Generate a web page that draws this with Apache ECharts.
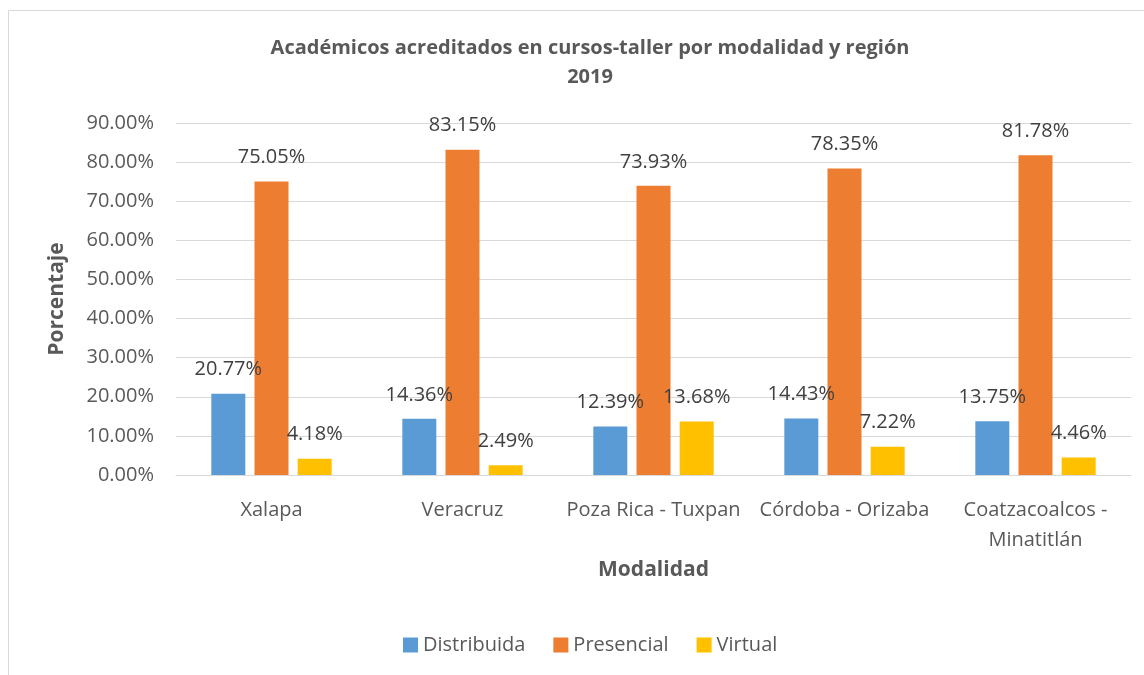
<!DOCTYPE html>
<html>
<head>
<meta charset="utf-8">
<script src="https://cdn.jsdelivr.net/npm/echarts@6/dist/echarts.min.js"></script>
<style>
  html, body { margin: 0; padding: 0; background: #fff; }
  #main { width: 1144px; height: 675px; }
</style>
</head>
<body>
<div id="main"></div>
<script>
// regiones y porcentajes
var regiones = ['Xalapa', 'Veracruz', 'Poza Rica - Tuxpan', 'Córdoba - Orizaba', 'Coatzacoalcos -\nMinatitlán'];
var distribuida = [20.77, 14.36, 12.39, 14.43, 13.75];
var presencial = [75.05, 83.15, 73.93, 78.35, 81.78];
var virtual = [4.18, 2.49, 13.68, 7.22, 4.46];
var nombres = ['Distribuida', 'Presencial', 'Virtual'];
var colores = ['#5B9BD5', '#ED7D31', '#FFC000'];

var fuente = '"Open Sans", sans-serif';

function serie(nombre, datos, color) {
	return {
		name: nombre,
		type: 'bar',
		data: datos,
		barWidth: 34,
		barGap: '27%',
		itemStyle: { color: color },
		label: {
			show: true,
			position: 'top',
			distance: 14,
			formatter: function (p) { return p.value.toFixed(2) + '%'; },
			color: '#404040',
			fontSize: 20,
			fontFamily: fuente
		}
	};
}

var option = {
	animation: false,
	textStyle: { fontFamily: fuente },
	title: {
		text: 'Académicos acreditados en cursos-taller por modalidad y región\n2019',
		left: 585,
		top: 29,
		textAlign: 'center',
		textStyle: {
			color: '#595959',
			fontSize: 20,
			fontWeight: 'bold',
			lineHeight: 29,
			fontFamily: fuente
		}
	},
	legend: {
		data: nombres,
		bottom: 15,
		left: 398,
		itemWidth: 15,
		itemHeight: 15,
		itemGap: 28,
		icon: 'rect',
		textStyle: { color: '#595959', fontSize: 20, fontFamily: fuente }
	},
	grid: { left: 176, right: 13, top: 123, bottom: 200 },
	xAxis: {
		type: 'category',
		data: regiones,
		name: 'Modalidad',
		nameLocation: 'middle',
		nameGap: 79,
		nameTextStyle: { color: '#595959', fontSize: 21, fontWeight: 'bold', fontFamily: fuente },
		axisLine: { lineStyle: { color: '#d9d9d9', width: 1 } },
		axisTick: { show: false },
		axisLabel: { color: '#595959', fontSize: 20, margin: 20, lineHeight: 30, fontFamily: fuente, interval: 0 }
	},
	yAxis: {
		type: 'value',
		min: 0,
		max: 90,
		interval: 10,
		name: 'Porcentaje',
		nameLocation: 'middle',
		nameGap: 108,
		nameTextStyle: { color: '#595959', fontSize: 21, fontWeight: 'bold', fontFamily: fuente },
		axisLine: { show: false },
		axisTick: { show: false },
		axisLabel: {
			color: '#595959',
			fontSize: 20,
			margin: 22,
			fontFamily: fuente,
			formatter: function (v) { return v.toFixed(2) + '%'; }
		},
		splitLine: { lineStyle: { color: '#d9d9d9', width: 1 } }
	},
	graphic: [{
		type: 'rect',
		shape: { x: 8.5, y: 10.5, width: 1140, height: 700 },
		style: { fill: 'none', stroke: '#d9d9d9', lineWidth: 1 },
		silent: true
	}],
	series: [
		serie(nombres[0], distribuida, colores[0]),
		serie(nombres[1], presencial, colores[1]),
		serie(nombres[2], virtual, colores[2])
	]
};

var chart = echarts.init(document.getElementById('main'));
chart.setOption(option);
</script>
</body>
</html>
